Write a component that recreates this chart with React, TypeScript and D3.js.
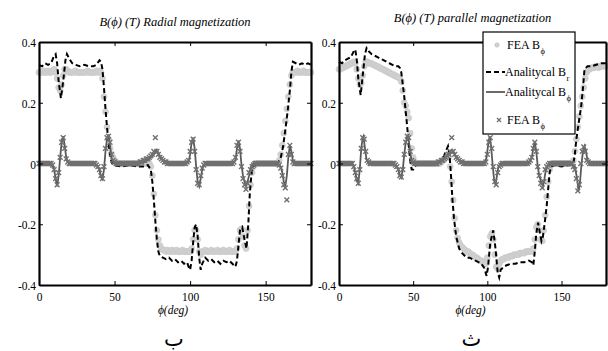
import React, { useEffect, useRef } from "react";
import * as d3 from "d3";

type Pt = [number, number];

// analytical Br, radial magnetization, [deg, T]
const anaBrLeft: Pt[] = [
  [0, 0.325], [2, 0.32], [4, 0.33], [6, 0.325], [8, 0.33], [10, 0.355], [11, 0.36], [12, 0.33], [13, 0.27],
  [14.5, 0.215], [16, 0.27], [17.5, 0.34], [18.5, 0.36], [20, 0.345], [22, 0.33], [24, 0.325], [27, 0.32],
  [30, 0.325], [33, 0.32], [36, 0.32], [38, 0.325], [40, 0.34], [41, 0.335], [42, 0.31], [43, 0.25], [44, 0.18],
  [45, 0.12], [46, 0.07], [47, 0.03], [48, 0.005], [49, -0.005], [55, -0.01], [60, -0.005], [65, -0.01],
  [70, -0.01], [72, -0.005], [74, -0.02], [75, -0.06], [76, -0.12], [77, -0.19], [78, -0.25], [79, -0.29],
  [80, -0.305], [82, -0.31], [84, -0.315], [86, -0.31], [88, -0.32], [90, -0.315], [92, -0.325], [94, -0.32],
  [96, -0.33], [98, -0.325], [99, -0.34], [100, -0.35], [101, -0.32], [102, -0.26], [103, -0.21], [104, -0.2],
  [105, -0.24], [106, -0.31], [107, -0.35], [108, -0.33], [110, -0.31], [112, -0.32], [114, -0.315],
  [116, -0.325], [118, -0.32], [120, -0.33], [122, -0.32], [124, -0.325], [126, -0.32], [128, -0.33],
  [130, -0.34], [131, -0.32], [132, -0.27], [133, -0.22], [134.5, -0.21], [136, -0.25], [137.3, -0.28],
  [138.5, -0.2], [139.5, -0.1], [140.5, -0.04], [141.5, -0.01], [143, -0.005], [150, -0.005], [155, -0.005],
  [158, 0], [160, 0.02], [161.5, 0.055], [163, 0.11], [164.5, 0.17], [166, 0.24], [167, 0.3], [168, 0.335],
  [170, 0.33], [172, 0.325], [174, 0.33], [176, 0.325], [178, 0.33], [180, 0.325],
];

// analytical Bphi, radial magnetization
const anaBpLeft: Pt[] = [
  [0, 0], [8, 0], [9, -0.005], [10, -0.02], [11, -0.05], [12, -0.075], [13, -0.04], [14, 0.02], [15, 0.07],
  [16, 0.09], [17, 0.06], [18, 0.02], [19, 0.005], [20, 0], [37, 0], [39, -0.01], [40, -0.02], [41, -0.045],
  [42, -0.052], [43, -0.02], [44, 0.04], [45, 0.08], [46, 0.095], [47, 0.06], [48, 0.02], [49, 0.005], [50, 0],
  [65, 0], [70, 0.005], [73, 0.015], [76, 0.03], [78, 0.045], [80, 0.025], [82, 0.01], [85, 0.002], [90, 0],
  [97, 0], [99, 0.005], [100, 0.03], [101, 0.07], [102, 0.085], [103, 0.05], [104, -0.01], [105, -0.06],
  [106, -0.075], [107, -0.05], [108, -0.02], [109, -0.005], [110, 0], [128, 0], [130, 0.01], [131, 0.05],
  [132, 0.075], [133, 0.05], [134, -0.005], [135, -0.04], [136, -0.06], [137, -0.075], [138, -0.06],
  [139, -0.04], [140, -0.015], [141, -0.005], [142, 0], [158, 0], [160, -0.01], [161, -0.03], [162, -0.06],
  [163, -0.075], [164, -0.04], [165, 0.02], [166, 0.06], [167, 0.04], [168, 0.01], [169, 0], [180, 0],
];

// FEA samples, one per degree from 0 to 180
const feaBrLeft: number[] = [
  0.30, 0.30, 0.30, 0.305, 0.30, 0.30, 0.305, 0.30, 0.30, 0.305,
  0.31, 0.30, 0.28, 0.25, 0.24, 0.26, 0.29, 0.31, 0.31, 0.305,
  0.30, 0.30, 0.30, 0.30, 0.305, 0.30, 0.30, 0.30, 0.30, 0.30,
  0.30, 0.30, 0.305, 0.30, 0.30, 0.30, 0.30, 0.30, 0.305, 0.30,
  0.305, 0.30, 0.28, 0.22, 0.17, 0.12, 0.08, 0.05, 0.03, 0.02,
  0.01, 0.005, 0, 0, 0, 0, 0, 0, 0, 0,
  0, 0, 0, 0, 0, 0, 0, 0, 0, 0,
  0, 0, 0, 0, -0.01, -0.04, -0.10, -0.17, -0.22, -0.25,
  -0.27, -0.28, -0.285, -0.285, -0.29, -0.285, -0.29, -0.29, -0.285, -0.29,
  -0.29, -0.285, -0.29, -0.29, -0.29, -0.285, -0.29, -0.29, -0.29, -0.29,
  -0.29, -0.28, -0.25, -0.22, -0.22, -0.25, -0.29, -0.30, -0.29, -0.29,
  -0.285, -0.29, -0.29, -0.29, -0.285, -0.29, -0.29, -0.29, -0.285, -0.29,
  -0.29, -0.29, -0.285, -0.29, -0.29, -0.29, -0.285, -0.29, -0.29, -0.29,
  -0.29, -0.28, -0.25, -0.22, -0.215, -0.24, -0.27, -0.28, -0.22, -0.14,
  -0.07, -0.03, -0.01, 0, 0, 0, 0, 0, 0, 0,
  0, 0, 0, 0, 0, 0, 0, 0, 0, 0.01,
  0.03, 0.06, 0.10, 0.14, 0.18, 0.22, 0.26, 0.29, 0.30, 0.30,
  0.30, 0.305, 0.30, 0.30, 0.30, 0.305, 0.30, 0.30, 0.30, 0.30,
  0.30,
];

const feaBpLeft: number[] = [
  0, 0, 0, 0, 0, 0, 0, 0, 0, -0.005,
  -0.02, -0.05, -0.07, -0.03, 0.02, 0.07, 0.085, 0.05, 0.015, 0.005,
  0, 0, 0, 0, 0, 0, 0, 0, 0, 0,
  0, 0, 0, 0, 0, 0, 0, 0, -0.005, -0.01,
  -0.02, -0.04, -0.05, -0.01, 0.05, 0.085, 0.09, 0.07, 0.03, 0.01,
  0.005, 0, 0, 0, 0, 0, 0, 0, 0, 0,
  0, 0, 0, 0, 0, 0, 0, 0.005, 0.005, 0.01,
  0.01, 0.015, 0.015, 0.02, 0.025, 0.03, 0.04, 0.085, 0.04, 0.03,
  0.02, 0.015, 0.01, 0.005, 0.005, 0, 0, 0, 0, 0,
  0, 0, 0, 0, 0, 0, 0, 0, 0.005, 0.01,
  0.04, 0.07, 0.08, 0.04, -0.02, -0.065, -0.07, -0.04, -0.015, -0.005,
  0, 0, 0, 0, 0, 0, 0, 0, 0, 0,
  0, 0, 0, 0, 0, 0, 0, 0, 0, 0.005,
  0.02, 0.06, 0.07, 0.04, -0.01, -0.05, -0.07, -0.085, -0.065, -0.03,
  -0.02, -0.01, -0.005, 0, 0, 0, 0, 0, 0, 0,
  0, 0, 0, 0, 0, 0, 0, 0, 0, -0.005,
  -0.015, -0.04, -0.07, -0.08, -0.12, 0.03, 0.06, 0.03, 0.005, 0,
  0, 0, 0, 0, 0, 0, 0, 0, 0, 0,
  0,
];

// analytical Br, parallel magnetization
const anaBrRight: Pt[] = [
  [0, 0.335], [2, 0.33], [4, 0.34], [6, 0.345], [8, 0.35], [10, 0.37], [11, 0.375], [12, 0.34], [13, 0.28],
  [14.6, 0.225], [16, 0.29], [17.5, 0.36], [18.6, 0.38], [20, 0.37], [22, 0.36], [24, 0.355], [26, 0.35],
  [28, 0.345], [30, 0.34], [32, 0.335], [34, 0.33], [36, 0.325], [38, 0.32], [40, 0.32], [41, 0.315],
  [42, 0.3], [43, 0.26], [44, 0.22], [45, 0.17], [46, 0.12], [47, 0.06], [48, 0.01], [49, -0.02], [50, -0.02],
  [51, -0.01], [52, -0.005], [55, 0], [65, 0], [68, 0.005], [70, 0.015], [72, 0.04], [73.5, 0.057],
  [74.5, 0.03], [75.5, -0.04], [76.5, -0.12], [77.5, -0.18], [79, -0.24], [81, -0.28], [83, -0.295],
  [86, -0.31], [88, -0.31], [90, -0.315], [92, -0.32], [94, -0.325], [96, -0.33], [98, -0.345], [99.5, -0.37],
  [100.5, -0.34], [102, -0.26], [104, -0.22], [105.5, -0.28], [107, -0.36], [108, -0.375], [109, -0.35],
  [111, -0.34], [113, -0.335], [116, -0.33], [119, -0.33], [122, -0.325], [125, -0.325], [128, -0.32],
  [130, -0.325], [131, -0.335], [132, -0.29], [133, -0.23], [134.2, -0.195], [135.5, -0.23], [136.5, -0.255],
  [137.5, -0.24], [138.7, -0.195], [140, -0.14], [141, -0.085], [142, -0.03], [143, -0.01], [145, -0.005],
  [150, -0.01], [155, -0.005], [158, 0], [159, 0.03], [160, 0.08], [161.5, 0.13], [163.3, 0.19], [164.5, 0.25],
  [165.5, 0.31], [167.5, 0.32], [170, 0.32], [173.5, 0.325], [177, 0.33], [180, 0.33],
];

const anaBpRight: Pt[] = [
  [0, 0], [9, 0], [10, -0.01], [11, -0.03], [12, -0.055], [13, -0.065], [14, -0.02], [15, 0.05], [16, 0.085],
  [16.5, 0.09], [17.5, 0.05], [18.5, 0.015], [20, 0], [37, 0], [39, -0.01], [40, -0.02], [41, -0.04],
  [42, -0.047], [43, -0.02], [44, 0.03], [45, 0.07], [46.5, 0.095], [47.5, 0.06], [48.5, 0.02], [50, 0],
  [65, 0], [70, 0.01], [73, 0.025], [75, 0.04], [76.5, 0.045], [78, 0.03], [80, 0.015], [83, 0.005], [86, 0],
  [98, 0], [99.5, 0.02], [100.5, 0.06], [101.6, 0.09], [102.5, 0.06], [103.5, 0], [104.5, -0.05],
  [105.5, -0.07], [106.5, -0.04], [107.5, -0.01], [109, 0], [128, 0], [130, 0.02], [131, 0.05], [132, 0.07],
  [133, 0.04], [134, -0.01], [135, -0.04], [136.5, -0.065], [137.5, -0.075], [138.5, -0.05], [139.5, -0.02],
  [141, -0.005], [142, 0], [157, 0], [159, -0.01], [160.5, -0.05], [161.5, -0.09], [162.5, -0.06],
  [163.5, 0], [164.5, 0.04], [165.5, 0.057], [166.5, 0.04], [167.5, 0.01], [169, 0], [180, 0],
];

const feaBrRight: number[] = [
  0.31, 0.31, 0.315, 0.315, 0.32, 0.32, 0.325, 0.325, 0.33, 0.33,
  0.335, 0.33, 0.31, 0.28, 0.26, 0.265, 0.29, 0.32, 0.335, 0.335,
  0.33, 0.33, 0.33, 0.325, 0.325, 0.32, 0.32, 0.315, 0.315, 0.31,
  0.31, 0.305, 0.305, 0.30, 0.30, 0.295, 0.295, 0.29, 0.29, 0.285,
  0.285, 0.28, 0.27, 0.24, 0.20, 0.19, 0.17, 0.15, 0.10, 0.05,
  0.02, 0.005, 0, 0, 0, 0, 0, 0, 0, 0,
  0, 0, 0, 0, 0, 0, 0, 0, 0, 0.005,
  0.01, 0.015, 0.02, 0.03, 0.02, -0.01, -0.06, -0.12, -0.18, -0.22,
  -0.245, -0.26, -0.27, -0.275, -0.28, -0.285, -0.29, -0.29, -0.295, -0.30,
  -0.30, -0.305, -0.31, -0.31, -0.315, -0.32, -0.32, -0.325, -0.33, -0.33,
  -0.31, -0.27, -0.24, -0.23, -0.25, -0.30, -0.34, -0.345, -0.33, -0.32,
  -0.315, -0.315, -0.31, -0.31, -0.31, -0.305, -0.305, -0.305, -0.30, -0.30,
  -0.30, -0.30, -0.295, -0.295, -0.295, -0.295, -0.29, -0.29, -0.29, -0.29,
  -0.29, -0.28, -0.25, -0.21, -0.20, -0.22, -0.25, -0.255, -0.22, -0.17,
  -0.11, -0.06, -0.02, -0.005, 0, 0, 0, 0, 0, 0,
  0, 0, 0, 0, 0, 0, 0, 0, 0.01, 0.04,
  0.08, 0.12, 0.155, 0.19, 0.22, 0.25, 0.28, 0.30, 0.31, 0.31,
  0.315, 0.315, 0.315, 0.32, 0.32, 0.315, 0.32, 0.32, 0.32, 0.32,
  0.32,
];

const feaBpRight: number[] = [
  0, 0, 0, 0, 0, 0, 0, 0, 0, 0,
  -0.01, -0.03, -0.05, -0.065, -0.02, 0.05, 0.085, 0.08, 0.04, 0.01,
  0.005, 0, 0, 0, 0, 0, 0, 0, 0, 0,
  0, 0, 0, 0, 0, 0, 0, 0, -0.005, -0.01,
  -0.02, -0.04, -0.045, -0.02, 0.03, 0.07, 0.09, 0.085, 0.04, 0.01,
  0.005, 0, 0, 0, 0, 0, 0, 0, 0, 0,
  0, 0, 0, 0, 0, 0, 0, 0.005, 0.005, 0.01,
  0.01, 0.015, 0.02, 0.025, 0.03, 0.04, 0.085, 0.04, 0.03, 0.02,
  0.015, 0.01, 0.005, 0.005, 0, 0, 0, 0, 0, 0,
  0, 0, 0, 0, 0, 0, 0, 0, 0, 0.005,
  0.03, 0.07, 0.085, 0.05, -0.01, -0.06, -0.07, -0.03, -0.01, -0.005,
  0, 0, 0, 0, 0, 0, 0, 0, 0, 0,
  0, 0, 0, 0, 0, 0, 0, 0, 0.005, 0.01,
  0.02, 0.05, 0.07, 0.04, -0.01, -0.04, -0.065, -0.08, -0.06, -0.02,
  -0.01, -0.005, 0, 0, 0, 0, 0, 0, 0, 0,
  0, 0, 0, 0, 0, 0, 0, 0, -0.01, -0.02,
  -0.05, -0.09, -0.07, 0, 0.04, 0.055, 0.04, 0.01, 0.005, 0,
  0, 0, 0, 0, 0, 0, 0, 0, 0, 0,
  0,
];

const xTicks = [0, 50, 100, 150];
const yTicks = [0.4, 0.2, 0, -0.2, -0.4];
const yTickLabels = ["0.4", "0.2", "0", "-0.2", "-0.4"];
const legendLabels = ["FEA B", "Analitycal B", "Analitycal B", "FEA B"];
const legendSubs = ["ϕ", "r", "ϕ", "ϕ"];

const panels = [
  {
    title: "B(ϕ) (T) Radial magnetization", titleY: 26, letter: "ب",
    left: 39, right: 311, anaBr: anaBrLeft, anaBp: anaBpLeft, feaBr: feaBrLeft, feaBp: feaBpLeft, legend: false,
  },
  {
    title: "B(ϕ) (T) parallel magnetization", titleY: 22, letter: "ث",
    left: 339, right: 606, anaBr: anaBrRight, anaBp: anaBpRight, feaBr: feaBrRight, feaBp: feaBpRight, legend: true,
  },
];

const serif = "Liberation Serif, serif";
const top = 42;
const bottom = 285;
const xMark = "M-2.4,-2.4L2.4,2.4M-2.4,2.4L2.4,-2.4";

const App = () => {
  const ref = useRef<SVGSVGElement>(null);

  useEffect(() => {
    draw();
  });

  const draw = () => {
    const svg = d3.select(ref.current);
    svg.selectAll("*").remove();

    panels.forEach((p) => {
      const x = d3.scaleLinear().domain([0, 180]).range([p.left, p.right]);
      const y = d3.scaleLinear().domain([-0.4, 0.4]).range([bottom, top]);
      const line = d3.line<Pt>().x((d) => x(d[0])).y((d) => y(d[1]));
      const g = svg.append("g");

      // FEA Br (light grey circles)
      g.selectAll(".feabr")
        .data(p.feaBr.map((v, i) => [i, v] as Pt))
        .join("circle")
        .attr("cx", (d) => x(d[0]))
        .attr("cy", (d) => y(d[1]))
        .attr("r", 3)
        .attr("fill", "#d2d2d2")
        .attr("stroke", "#c6c6c6")
        .attr("stroke-width", 0.6);

      g.append("path")
        .attr("d", line(p.anaBr))
        .attr("fill", "none")
        .attr("stroke", "#000")
        .attr("stroke-width", 2)
        .attr("stroke-dasharray", "5,3");

      g.append("path")
        .attr("d", line(p.anaBp))
        .attr("fill", "none")
        .attr("stroke", "#5a5a5a")
        .attr("stroke-width", 1.8);

      g.selectAll(".feabp")
        .data(p.feaBp.map((v, i) => [i, v] as Pt))
        .join("path")
        .attr("d", xMark)
        .attr("transform", (d) => `translate(${x(d[0])},${y(d[1])})`)
        .attr("stroke", "#707070")
        .attr("stroke-width", 1.4)
        .attr("fill", "none");

      // axes and frame
      const axB = g.append("g").attr("transform", `translate(0,${bottom})`)
        .call(d3.axisBottom(x).tickValues(xTicks).tickSizeInner(-4).tickSizeOuter(0).tickPadding(7));
      const axT = g.append("g").attr("transform", `translate(0,${top})`)
        .call(d3.axisTop(x).tickValues(xTicks).tickSizeInner(-4).tickSizeOuter(0).tickFormat(() => ""));
      const axL = g.append("g").attr("transform", `translate(${p.left},0)`)
        .call(d3.axisLeft(y).tickValues(yTicks).tickSizeInner(-4).tickSizeOuter(0).tickPadding(3)
          .tickFormat((d, i) => yTickLabels[i]));
      const axR = g.append("g").attr("transform", `translate(${p.right},0)`)
        .call(d3.axisRight(y).tickValues(yTicks).tickSizeInner(-4).tickSizeOuter(0).tickFormat(() => ""));

      [axB, axT, axL, axR].forEach((a) => {
        a.select(".domain").attr("stroke", "#000").attr("stroke-width", 2.2);
        a.selectAll(".tick line").attr("stroke", "#000").attr("stroke-width", 1);
        a.selectAll("text")
          .attr("font-family", serif)
          .attr("font-size", 13)
          .attr("fill", "#000")
          .style("transform-box", "fill-box")
          .style("transform-origin", "center")
          .style("transform", "scaleX(0.88)");
      });
      axL.selectAll("text").attr("dy", "0.36em").style("transform-origin", "right center");

      g.append("text")
        .attr("x", (p.left + p.right) / 2)
        .attr("y", p.titleY)
        .attr("text-anchor", "middle")
        .attr("font-family", serif)
        .attr("font-style", "italic")
        .attr("font-size", 12.5)
        .text(p.title);

      g.append("text")
        .attr("x", (p.left + p.right) / 2 - 2)
        .attr("y", 314)
        .attr("text-anchor", "middle")
        .attr("font-family", serif)
        .attr("font-style", "italic")
        .attr("font-size", 11.5)
        .text("ϕ(deg)");

      g.append("text")
        .attr("x", (p.left + p.right) / 2 - 1)
        .attr("y", 346)
        .attr("text-anchor", "middle")
        .attr("font-family", "DejaVu Sans, sans-serif")
        .attr("font-size", 21)
        .text(p.letter);

      if (p.legend) {
        const lx = 483;
        const rowY = [45, 72, 92, 120];
        const lg = g.append("g");
        lg.append("rect")
          .attr("x", lx).attr("y", 32).attr("width", 92).attr("height", 102)
          .attr("fill", "#fff").attr("stroke", "#000").attr("stroke-width", 1.2);
        lg.append("circle").attr("cx", lx + 14).attr("cy", rowY[0])
          .attr("r", 2.2).attr("fill", "#d2d2d2").attr("stroke", "#bbb").attr("stroke-width", 0.6);
        lg.append("line").attr("x1", lx + 3).attr("x2", lx + 22).attr("y1", rowY[1]).attr("y2", rowY[1])
          .attr("stroke", "#000").attr("stroke-width", 2).attr("stroke-dasharray", "5,3");
        lg.append("line").attr("x1", lx + 3).attr("x2", lx + 22).attr("y1", rowY[2]).attr("y2", rowY[2])
          .attr("stroke", "#5a5a5a").attr("stroke-width", 1.8);
        lg.append("path").attr("d", "M-2,-2L2,2M-2,2L2,-2")
          .attr("transform", `translate(${lx + 16},${rowY[3]})`)
          .attr("stroke", "#707070").attr("stroke-width", 1.3);
        legendLabels.forEach((lab, i) => {
          const t = lg.append("text")
            .attr("x", i === 1 || i === 2 ? lx + 22 : lx + 24)
            .attr("y", rowY[i] + 4)
            .attr("font-family", serif)
            .attr("font-size", 12);
          t.append("tspan").text(lab);
          t.append("tspan").attr("font-size", 8.5).attr("dx", 0.5).attr("dy", 5).text(legendSubs[i]);
        });
      }
    });
  };

  return (
    <svg
      ref={ref}
      width={608}
      height={351}
      style={{ position: "absolute", left: 0, top: 0, background: "#fff" }}
    />
  );
};

export default App;
